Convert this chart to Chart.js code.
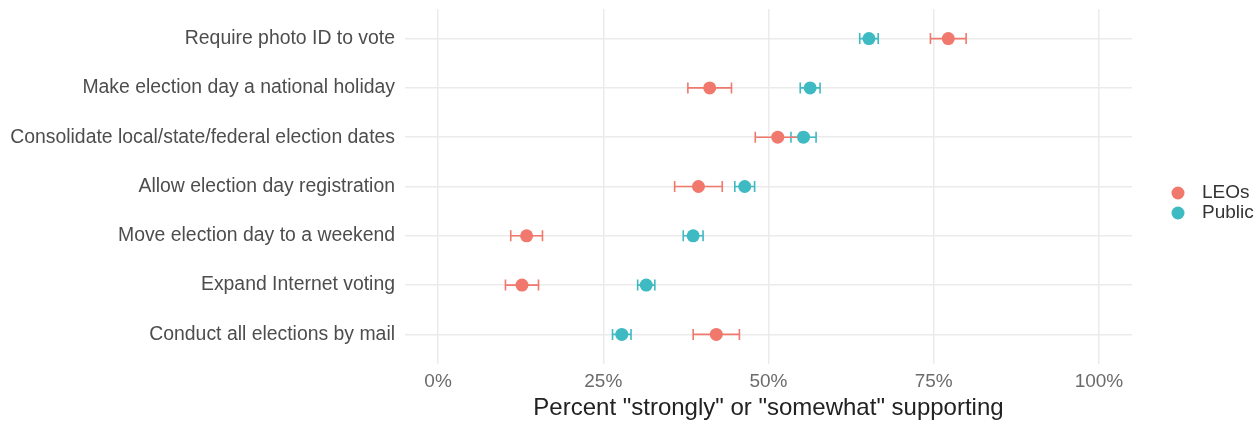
<!DOCTYPE html>
<html>
<head>
<meta charset="utf-8">
<script src="https://cdn.jsdelivr.net/npm/chart.js@4/dist/chart.umd.min.js"></script>
<style>
  html, body { margin: 0; padding: 0; background: #fff; }
  #wrap { width: 1256px; height: 423px; }
</style>
</head>
<body>
<div id="wrap"><canvas id="myChart"></canvas></div>
<script>
// Data (percent supporting, with error half-widths)
const categories = [
    'Require photo ID to vote',
    'Make election day a national holiday',
    'Consolidate local/state/federal election dates',
    'Allow election day registration',
    'Move election day to a weekend',
    'Expand Internet voting',
    'Conduct all elections by mail'
];
const leoValues = [77.2, 41.1, 51.4, 39.4, 13.4, 12.7, 42.1];
const leoErrors = [2.7, 3.3, 3.4, 3.6, 2.4, 2.5, 3.5];
const publicValues = [65.2, 56.3, 55.3, 46.4, 38.6, 31.5, 27.8];
const publicErrors = [1.4, 1.5, 1.9, 1.5, 1.5, 1.3, 1.4];
const xTicks = [0, 25, 50, 75, 100];

const leoColor = '#F0786C';
const publicColor = '#3DBAC2';
const fontFamily = "'Liberation Sans', Arial, Helvetica, sans-serif";

// Error bars drawn through the chart scales, under the dots
const errorBars = {
    id: 'errorBars',
    beforeDatasetsDraw(chart) {
        const ctx = chart.ctx;
        const xs = chart.scales.x, ys = chart.scales.y;
        chart.data.datasets.forEach(ds => {
            ctx.save();
            ctx.strokeStyle = ds.backgroundColor;
            ctx.lineWidth = 1.6;
            ds.data.forEach((p, i) => {
                const err = ds.errors[i];
                const x1 = xs.getPixelForValue(p.x - err);
                const x2 = xs.getPixelForValue(p.x + err);
                const y = ys.getPixelForValue(p.y);
                ctx.beginPath();
                ctx.moveTo(x1, y); ctx.lineTo(x2, y);
                ctx.moveTo(x1, y - 5.5); ctx.lineTo(x1, y + 5.5);
                ctx.moveTo(x2, y - 5.5); ctx.lineTo(x2, y + 5.5);
                ctx.stroke();
            });
            ctx.restore();
        });
    }
};

// Legend on the right, like ggplot
const sideLegend = {
    id: 'sideLegend',
    afterDraw(chart) {
        const ctx = chart.ctx;
        const area = chart.chartArea;
        const items = [chart.data.datasets[1], chart.data.datasets[0]];
        const midY = chart.height / 2;
        ctx.save();
        ctx.font = '19px ' + fontFamily;
        ctx.textBaseline = 'middle';
        ctx.textAlign = 'left';
        items.forEach((ds, k) => {
            const y = midY + (k === 0 ? -18.5 : 1.5);
            ctx.fillStyle = ds.backgroundColor;
            ctx.beginPath();
            ctx.arc(area.right + 46, y, 6.5, 0, Math.PI * 2);
            ctx.fill();
            ctx.fillStyle = '#333';
            ctx.fillText(ds.label, area.right + 70, y);
        });
        ctx.restore();
    }
};

const ctx = document.getElementById('myChart').getContext('2d');
new Chart(ctx, {
    type: 'scatter',
    data: {
        datasets: [
            {
                label: 'Public',
                data: publicValues.map((v, i) => ({ x: v, y: i })),
                errors: publicErrors,
                backgroundColor: publicColor,
                pointRadius: 6.5,
                pointBorderWidth: 0
            },
            {
                label: 'LEOs',
                data: leoValues.map((v, i) => ({ x: v, y: i })),
                errors: leoErrors,
                backgroundColor: leoColor,
                pointRadius: 6.5,
                pointBorderWidth: 0
            }
        ]
    },
    options: {
        responsive: true,
        maintainAspectRatio: false,
        animation: false,
        layout: { padding: { top: 9, right: 124, left: 0, bottom: 0 } },
        plugins: {
            legend: { display: false },
            tooltip: { enabled: false }
        },
        scales: {
            x: {
                type: 'linear',
                min: -5,
                max: 105,
                afterBuildTicks: s => { s.ticks = xTicks.map(v => ({ value: v })); },
                afterFit: s => { s.height = 59; s.paddingLeft = 0; s.paddingRight = 0; },
                grid: { color: '#EBEBEB', lineWidth: 1.5, drawTicks: false },
                border: { display: false },
                ticks: {
                    padding: 6,
                    color: '#6b6b6b',
                    font: { family: fontFamily, size: 19 },
                    callback: v => v + '%'
                },
                title: {
                    display: true,
                    text: 'Percent "strongly" or "somewhat" supporting',
                    color: '#222',
                    font: { family: fontFamily, size: 24 },
                    padding: { top: 0, bottom: 0 }
                }
            },
            y: {
                type: 'linear',
                min: -0.6,
                max: 6.6,
                reverse: true,
                afterBuildTicks: s => { s.ticks = categories.map((c, i) => ({ value: i })); },
                afterFit: s => { s.width = 405; s.paddingTop = 0; s.paddingBottom = 0; },
                grid: { color: '#EBEBEB', lineWidth: 1.5, drawTicks: false },
                border: { display: false },
                ticks: {
                    padding: 10,
                    color: '#4D4D4D',
                    font: { family: fontFamily, size: 19.4 },
                    callback: v => categories[v]
                }
            }
        }
    },
    plugins: [errorBars, sideLegend]
});
</script>
</body>
</html>
